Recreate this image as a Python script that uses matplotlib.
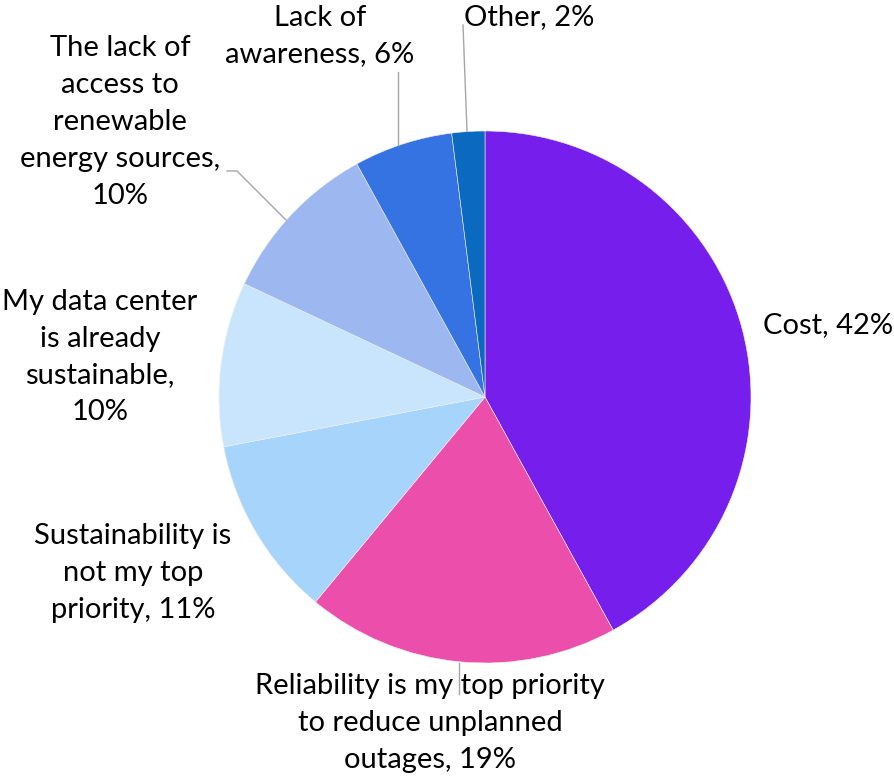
import matplotlib.pyplot as plt
import numpy as np

labels = [
    "Cost, 42%",
    "Reliability is my top priority\nto reduce unplanned\noutages, 19%",
    "Sustainability is\nnot my top\npriority, 11%",
    "My data center\nis already\nsustainable,\n10%",
    "The lack of\naccess to\nrenewable\nenergy sources,\n10%",
    "Lack of\nawareness, 6%",
    "Other, 2%",
]
values = [42, 19, 11, 10, 10, 6, 2]
colors = ['#761eeb', '#eb4fab', '#a6d4fa', '#c9e5fd', '#9db8f0', '#3573e3', '#0b6abf']

# label centre positions in pixel coords (y from top)
label_pos = [(828, 325), (430, 723), (133, 573), (100, 357), (120, 122), (320, 36), (529, 17)]

W, H = 894, 776
fig = plt.figure(figsize=(W / 100, H / 100), dpi=100)
ax = fig.add_axes([0, 0, 1, 1])

cx, cy, r = 485, H - 397, 266
ax.pie(values, colors=colors, startangle=90, counterclock=False,
       center=(cx, cy), radius=r, frame=True,
       wedgeprops=dict(linewidth=0.4, edgecolor='#f0f0f0'))
ax.set_xlim(0, W)
ax.set_ylim(0, H)
ax.set_aspect('equal')
ax.axis('off')

for lab, (x, y) in zip(labels, label_pos):
    ax.text(x, H - y, lab, ha='center', va='center', fontsize=21,
            family='Lato', color='black', linespacing=1.52)

# leader lines
leaders = [
    [(227, 171), (237, 171), (286, 220)],
    [(398, 72), (398, 145)],
    [(463, 25), (467, 131)],
    [(459, 663), (459, 694)],
]
for pts in leaders:
    xs = [p[0] for p in pts]
    ys = [H - p[1] for p in pts]
    ax.plot(xs, ys, color='#a6a6a6', lw=1)

fig.savefig('out.png', dpi=100)
